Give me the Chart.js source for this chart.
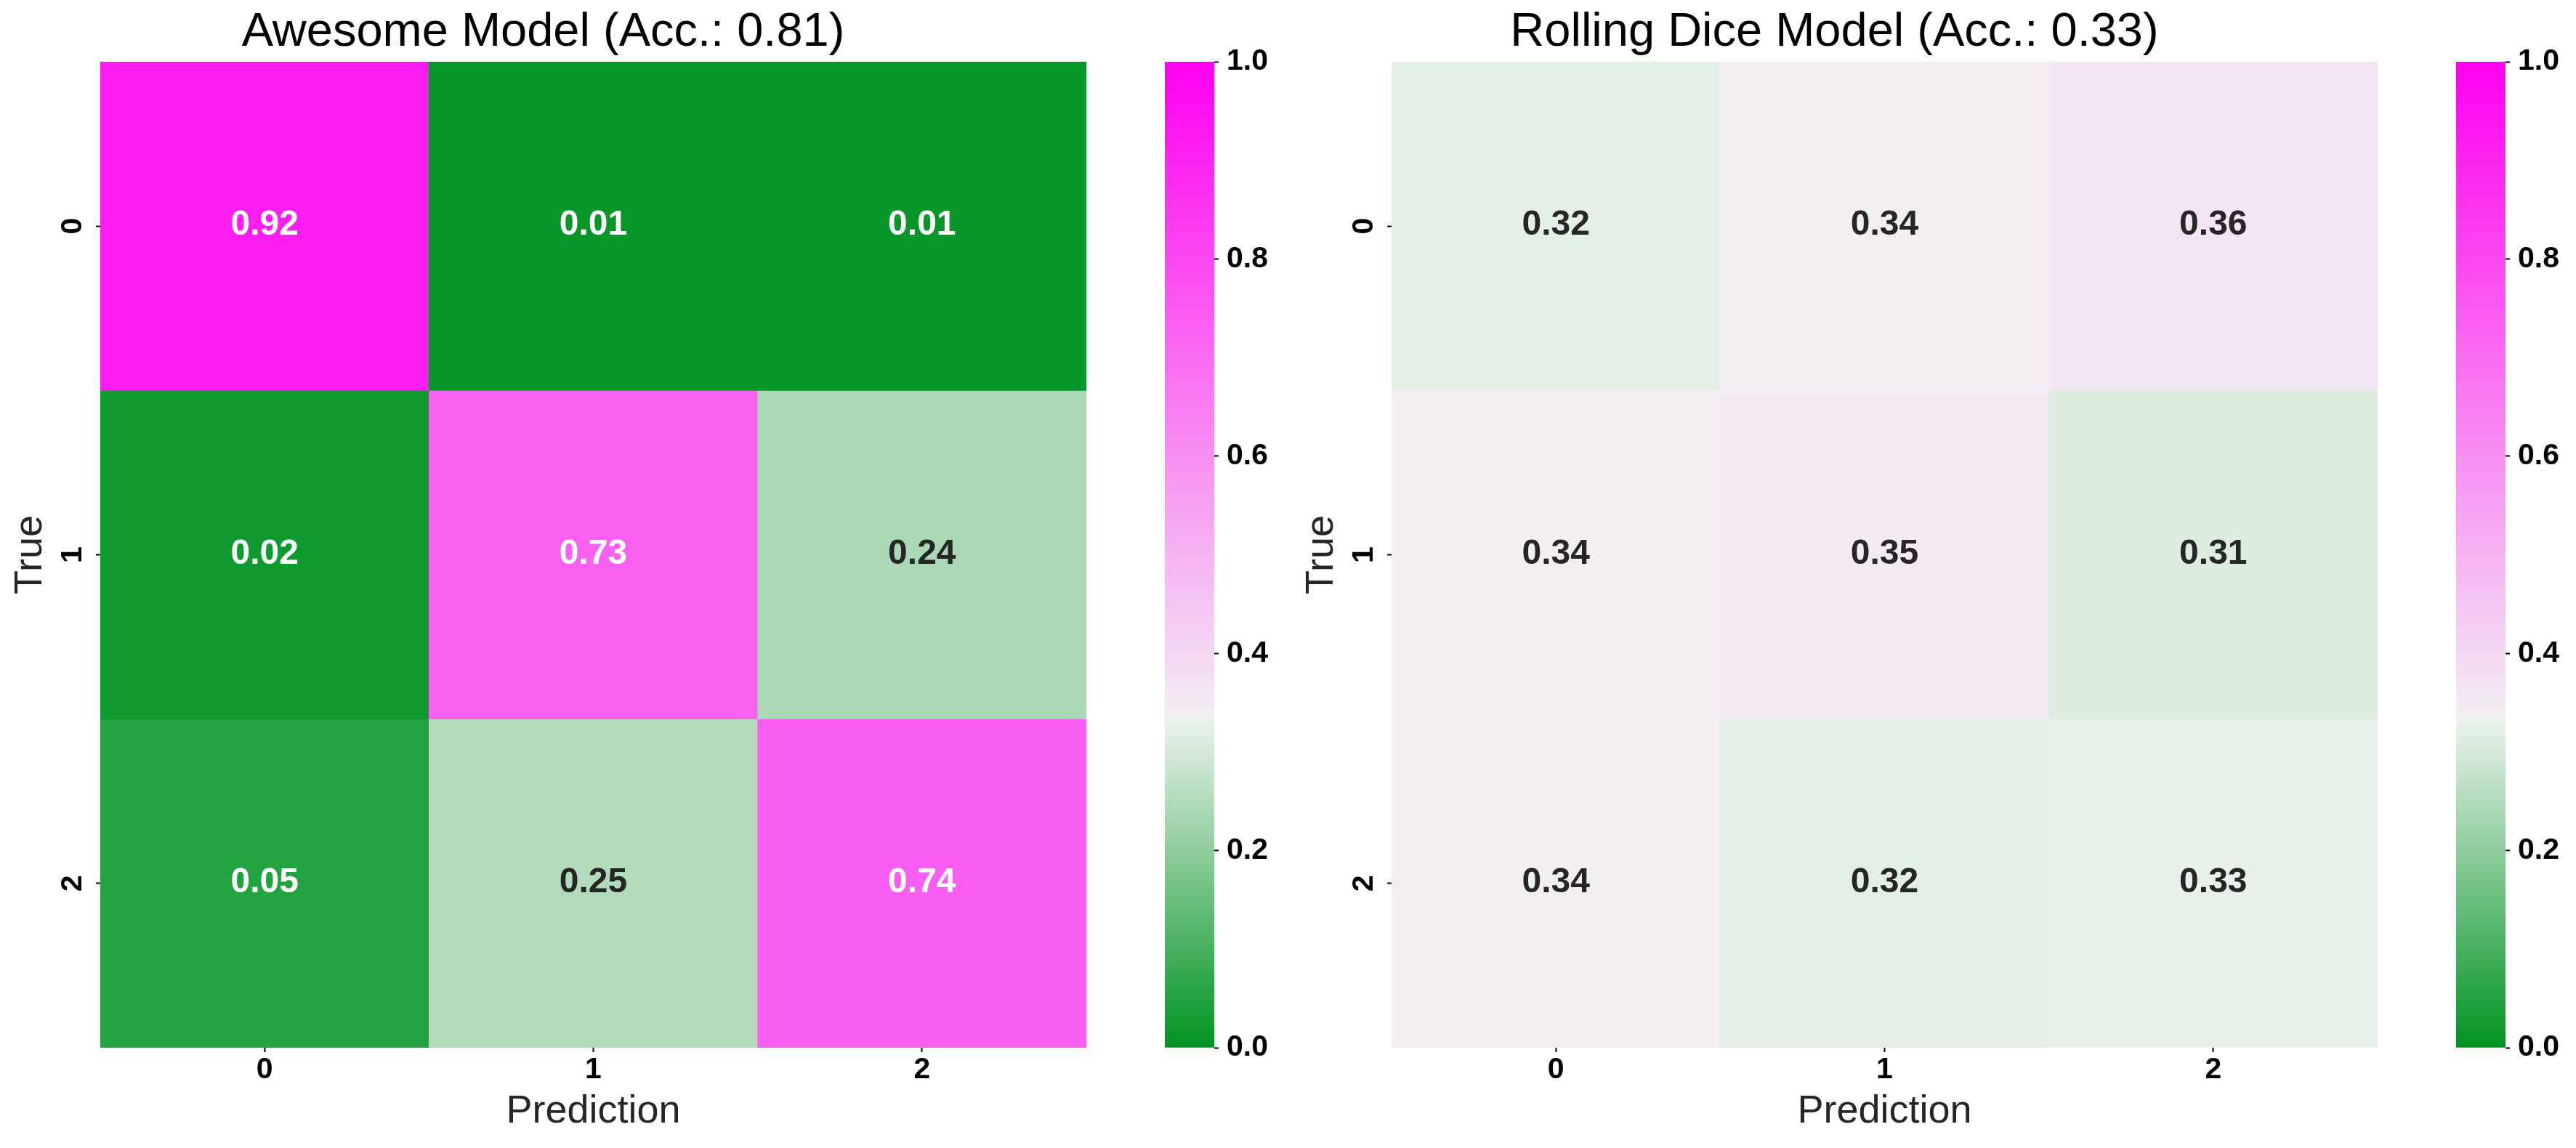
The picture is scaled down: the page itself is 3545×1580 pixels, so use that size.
<!DOCTYPE html>
<html>
<head>
<meta charset="utf-8">
<script src="https://cdn.jsdelivr.net/npm/chart.js@4.4.0/dist/chart.umd.min.js"></script>
<style>
  body { margin: 0; background: #fff; }
  #wrap { position: relative; width: 3545px; height: 1580px; }
  .box { position: absolute; top: 0; height: 1580px; }
</style>
</head>
<body>
<div id="wrap">
  <div class="box" style="left:0;width:1633px"><canvas id="heatA"></canvas></div>
  <div class="box" style="left:1603px;width:200px"><canvas id="barA"></canvas></div>
  <div class="box" style="left:1777px;width:1633px"><canvas id="heatB"></canvas></div>
  <div class="box" style="left:3380px;width:165px"><canvas id="barB"></canvas></div>
</div>
<script>
// class labels (rows = true, columns = prediction)
const classLabels = ["0", "1", "2"];

// normalised confusion matrices, row by row
const awesomeValues = [
  [0.92, 0.01, 0.01],
  [0.02, 0.73, 0.24],
  [0.05, 0.25, 0.74]
];
const diceValues = [
  [0.32, 0.34, 0.36],
  [0.34, 0.35, 0.31],
  [0.34, 0.32, 0.33]
];

const awesomeTitle = "Awesome Model (Acc.: 0.81)";
const diceTitle = "Rolling Dice Model (Acc.: 0.33)";

// colour bar range and ticks
const cbarRange = [0, 1];
const cbarTicks = [0, 0.2, 0.4, 0.6, 0.8, 1.0];

// colormap: green -> near white (chance level) -> magenta
const cmapStops = [0, 0.31, 0.33, 0.34, 0.36, 1];
const cmapColors = [
  [0, 148, 34], [220, 236, 223], [232, 242, 234],
  [242, 238, 242], [243, 229, 243], [255, 0, 240]
];

const fontFamily = "'Liberation Sans', Arial, sans-serif";
Chart.defaults.font.family = fontFamily;

function colorAt(v) {
  for (let i = 1; i < cmapStops.length; i++) {
    if (v <= cmapStops[i]) {
      const t = (v - cmapStops[i - 1]) / (cmapStops[i] - cmapStops[i - 1]);
      const a = cmapColors[i - 1], b = cmapColors[i];
      return a.map((c, k) => Math.round(c + (b[k] - c) * t));
    }
  }
  return cmapColors[cmapColors.length - 1];
}
function rgb(c) { return `rgb(${c[0]},${c[1]},${c[2]})`; }

// same rule seaborn uses to pick the annotation colour
function isDark(c) {
  const lin = c.map(x => {
    x /= 255;
    return x <= 0.03928 ? x / 12.92 : Math.pow((x + 0.055) / 1.055, 2.4);
  });
  return 0.2126 * lin[0] + 0.7152 * lin[1] + 0.0722 * lin[2] <= 0.408;
}

const cellText = {
  id: "cellText",
  afterDatasetsDraw(chart) {
    const ctx = chart.ctx;
    ctx.save();
    ctx.font = "bold 48px " + fontFamily;
    ctx.textAlign = "center";
    ctx.textBaseline = "alphabetic";
    chart.data.datasets.forEach((ds, i) => {
      chart.getDatasetMeta(i).data.forEach((bar, j) => {
        const v = ds.cellValues[j];
        const p = bar.getCenterPoint();
        ctx.fillStyle = isDark(colorAt(v)) ? "#ffffff" : "#262626";
        ctx.fillText(v.toFixed(2), p.x, p.y + 12);
      });
    });
    ctx.restore();
  }
};

const tickFont = { size: 41, weight: "bold" };
const tickGrid = { drawOnChartArea: false, tickLength: 6, tickColor: "#000", tickWidth: 2 };

function drawHeatmap(canvasId, title, values) {
  const datasets = values.map((row, r) => ({
    data: row.map(() => [r - 0.5, r + 0.5]),
    cellValues: row,
    backgroundColor: row.map(v => rgb(colorAt(v))),
    borderWidth: 0,
    borderSkipped: false,
    barPercentage: 1,
    categoryPercentage: 1,
    grouped: false
  }));

  new Chart(document.getElementById(canvasId), {
    type: "bar",
    data: { labels: classLabels, datasets },
    plugins: [cellText],
    options: {
      responsive: true,
      maintainAspectRatio: false,
      animation: false,
      layout: { padding: { right: 138 } },
      plugins: {
        legend: { display: false },
        tooltip: { enabled: false },
        title: {
          display: true,
          text: title,
          color: "#000",
          font: { size: 65, weight: "normal" },
          padding: { top: 6, bottom: 1 }
        }
      },
      scales: {
        x: {
          type: "category",
          offset: true,
          afterFit: s => { s.height = 138; },
          ticks: { color: "#000", font: tickFont, padding: 0, maxRotation: 0 },
          grid: Object.assign({ offset: false }, tickGrid),
          border: { display: false },
          title: {
            display: true,
            text: "Prediction",
            color: "#262626",
            font: { size: 54 },
            padding: { bottom: 17 }
          }
        },
        y: {
          type: "linear",
          min: -0.5,
          max: classLabels.length - 0.5,
          reverse: true,
          afterBuildTicks: s => { s.ticks = classLabels.map((_, i) => ({ value: i })); },
          afterFit: s => { s.width = 138; },
          ticks: {
            callback: v => classLabels[v],
            minRotation: 90,
            maxRotation: 90,
            crossAlign: "center",
            padding: 20,
            color: "#000",
            font: tickFont
          },
          grid: tickGrid,
          border: { display: false },
          title: {
            display: true,
            text: "True",
            color: "#262626",
            font: { size: 54 },
            padding: { top: 10 }
          }
        }
      }
    }
  });
}

function drawColorbar(canvasId) {
  new Chart(document.getElementById(canvasId), {
    type: "bar",
    data: {
      labels: [""],
      datasets: [{
        data: [cbarRange],
        backgroundColor: c => {
          const chart = c.chart;
          if (!chart.chartArea) return rgb(colorAt(1));
          const ys = chart.scales.y;
          const g = chart.ctx.createLinearGradient(0, ys.getPixelForValue(cbarRange[0]), 0, ys.getPixelForValue(cbarRange[1]));
          cmapStops.forEach((s, i) => g.addColorStop(s, rgb(cmapColors[i])));
          return g;
        },
        borderWidth: 0,
        barPercentage: 1,
        categoryPercentage: 1
      }]
    },
    options: {
      responsive: true,
      maintainAspectRatio: false,
      animation: false,
      layout: { padding: { top: 85, bottom: 138 } },
      plugins: { legend: { display: false }, tooltip: { enabled: false } },
      scales: {
        x: { display: false },
        y: {
          position: "right",
          min: cbarRange[0],
          max: cbarRange[1],
          afterBuildTicks: s => { s.ticks = cbarTicks.map(v => ({ value: v })); },
          afterFit: s => { s.width = s.chart.width - 68; },
          ticks: { callback: v => v.toFixed(1), padding: 11, color: "#000", font: tickFont },
          grid: tickGrid,
          border: { display: false }
        }
      }
    }
  });
}

drawHeatmap("heatA", awesomeTitle, awesomeValues);
drawColorbar("barA");
drawHeatmap("heatB", diceTitle, diceValues);
drawColorbar("barB");
</script>
</body>
</html>
